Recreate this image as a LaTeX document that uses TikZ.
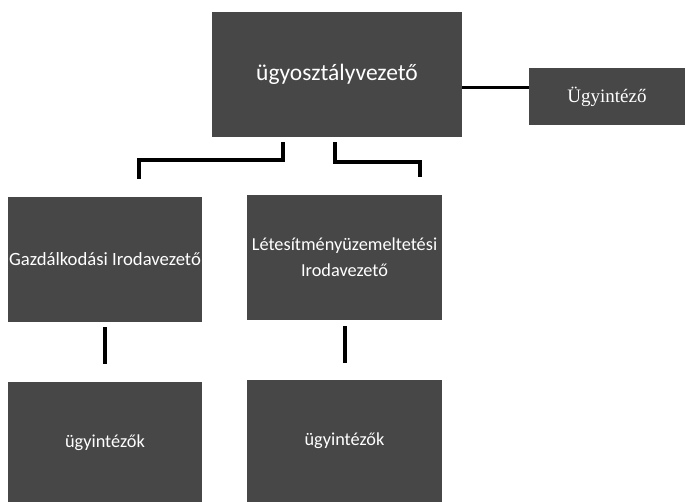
\documentclass[tikz,border=0pt]{standalone}
\usepackage{fontspec}
\setmainfont{Carlito}
\newfontfamily\serifclerk{Liberation Serif}
\usepackage{tikz}

\begin{document}
\begin{tikzpicture}[x=1pt, y=1pt]
  % Define styles
  \tikzstyle{unit} = [rectangle, fill=black!72, text=white, inner sep=0pt, align=center]
  \tikzstyle{conn} = [draw=black, line width=4pt]
  \tikzstyle{thinconn} = [draw=black, line width=3pt]

  \useasboundingbox (0,0) rectangle (686,502);
  \clip (0,0) rectangle (686,502);

  % Head of department
  \node[unit, minimum width=250pt, minimum height=125pt, font=\fontsize{23.5}{28}\selectfont] (chief) at (337,427.5) {ügyosztályvezető};

  % Clerk beside the head
  \node[unit, minimum width=156pt, minimum height=57pt, font=\serifclerk\fontsize{19}{22}\selectfont] (clerk) at (607,405.5) {Ügyintéző};

  % Office heads
  \node[unit, minimum width=194pt, minimum height=125pt, font=\fontsize{18.7}{26}\selectfont] (gazd) at (105,242.5) {Gazdálkodási Irodavezető};
  \node[unit, minimum width=195pt, minimum height=125pt, font=\fontsize{18.3}{26}\selectfont] (letes) at (344.5,244.5) {Létesítményüzemeltetési\\Irodavezető};

  % Staff
  \node[unit, minimum width=194pt, minimum height=122pt, font=\fontsize{18.3}{22}\selectfont] (staffL) at (105,59) {ügyintézők};
  \node[unit, minimum width=195pt, minimum height=122pt, font=\fontsize{18.3}{22}\selectfont] (staffR) at (344.5,61) {ügyintézők};

  % Connectors
  \coordinate (hline) at (500,414);
  \draw[thinconn] (chief.east |- hline) -- (clerk.west |- hline);
  \draw[conn] ([xshift=-54pt,yshift=-5pt]chief.south) -- ++(0,-18) -| ([xshift=34pt,yshift=18pt]gazd.north);
  \draw[conn] ([xshift=-2pt,yshift=-5pt]chief.south) -- ++(0,-20) -| ([xshift=75.5pt,yshift=18pt]letes.north);
  \draw[conn] ([yshift=-5pt]gazd.south) -- ([yshift=18pt]staffL.north);
  \draw[conn] ([yshift=-6pt]letes.south) -- ([yshift=17pt]staffR.north);
\end{tikzpicture}
\end{document}
